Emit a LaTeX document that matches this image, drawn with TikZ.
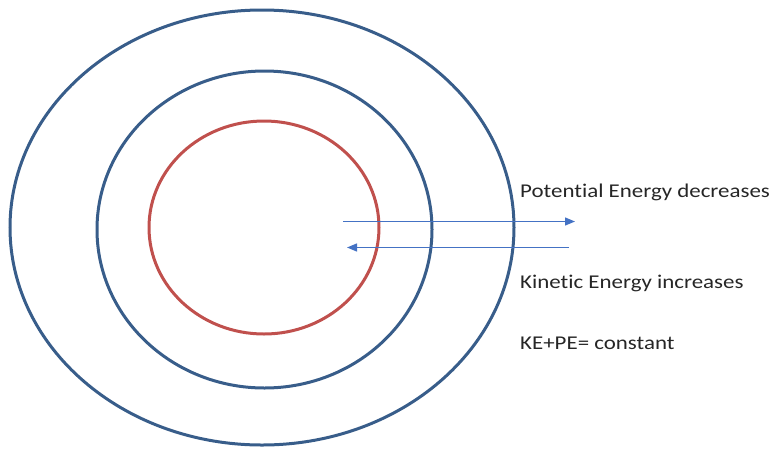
\documentclass[tikz,border=0pt]{standalone}
\usepackage{fontspec}
\setmainfont{Carlito}[Ligatures=NoCommon]
\usetikzlibrary{shapes.geometric,arrows.meta}
\definecolor{ringblue}{HTML}{385D8A}
\definecolor{ringred}{HTML}{C0504D}
\definecolor{arrowblue}{HTML}{4472C4}
\tikzset{
  ring/.style={ellipse, draw=ringblue, line width=3pt, inner sep=0pt},
  redring/.style={ellipse, draw=ringred, line width=3pt, inner sep=0pt},
  flow/.style={draw=arrowblue, line width=1.3pt, -{Triangle[length=10pt,width=8pt]}},
  lbl/.style={anchor=base west, inner sep=0pt, xscale=1.175, font=\fontsize{19.5}{23}\selectfont, text=black!85}
}
\begin{document}
\begin{tikzpicture}[x=1pt,y=-1pt]
\useasboundingbox (0,0) rectangle (774,448);
\node[ring, minimum width=504pt, minimum height=435pt] (outer) at (262,227.5) {};
\node[ring, minimum width=335pt, minimum height=317pt] (middle) at (264.5,229.5) {};
\node[redring, minimum width=230pt, minimum height=213pt] (inner) at (264,227.5) {};
\coordinate (a1) at (343,221.5);
\coordinate (a2) at (575,221.5);
\coordinate (b1) at (569,247.5);
\coordinate (b2) at (347,247.5);
\draw[flow] (a1) -- (a2);
\draw[flow] (b1) -- (b2);
\node[lbl] (pe) at (520,197) {Potential Energy decreases};
\node[lbl] (ke) at (520,288) {Kinetic Energy increases};
\node[lbl] (sum) at (520,349) {KE+PE= constant};
\end{tikzpicture}
\end{document}
